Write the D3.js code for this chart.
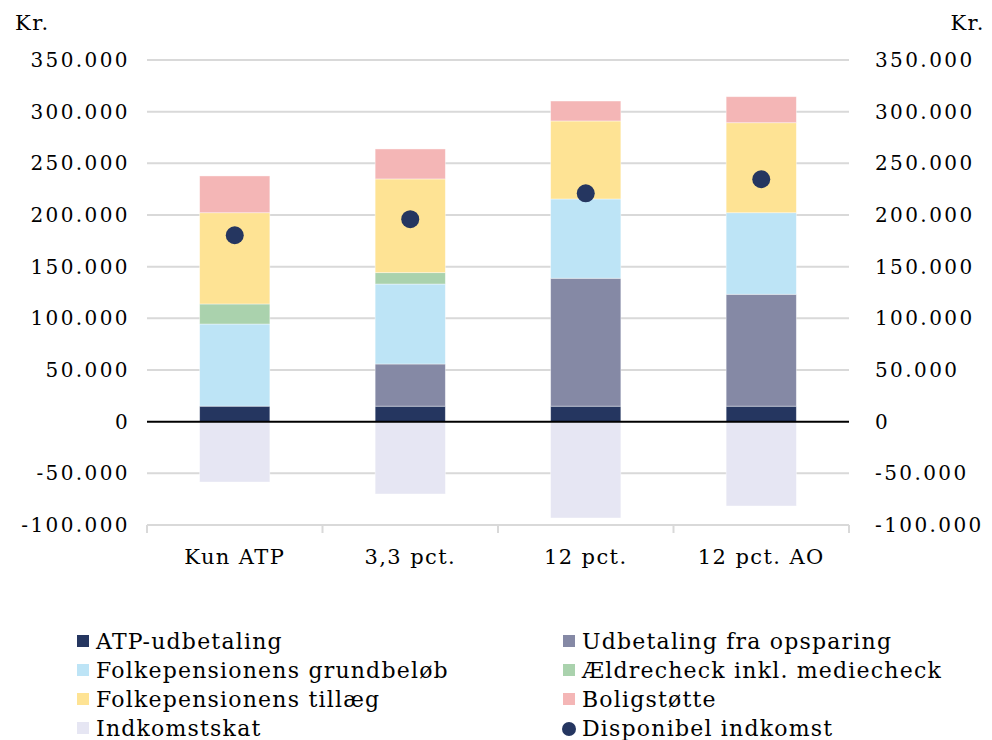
<!DOCTYPE html>
<html><head><meta charset="utf-8">
<script src="https://cdn.jsdelivr.net/npm/d3@7"></script>
<style>
body{margin:0;background:#fff;}
text{font-family:"DejaVu Serif",Georgia,serif;fill:#000;}
</style></head>
<body><svg id="c" width="992" height="740"></svg>
<script>
const categories = ["Kun ATP", "3,3 pct.", "12 pct.", "12 pct. AO"];
const atp         = [15000, 15000, 15000, 15000];
const opsparing   = [0, 40800, 123800, 108300];
const grundbelob  = [79500, 77400, 76700, 78900];
const aeldrecheck = [19400, 11000, 0, 0];
const tillaeg     = [88300, 90700, 75500, 87100];
const boligstotte = [35600, 29000, 19300, 25200];
const skat        = [-58400, -70000, -93200, -81600];
const disponibel  = [180400, 195900, 221000, 234600];
const yTicks = [-100000, -50000, 0, 50000, 100000, 150000, 200000, 250000, 300000, 350000];

const series = [
  {name:"ATP-udbetaling", values:atp, color:"#253660"},
  {name:"Udbetaling fra opsparing", values:opsparing, color:"#8589a5"},
  {name:"Folkepensionens grundbeløb", values:grundbelob, color:"#bde4f6"},
  {name:"Ældrecheck inkl. mediecheck", values:aeldrecheck, color:"#aad2ad"},
  {name:"Folkepensionens tillæg", values:tillaeg, color:"#fee394"},
  {name:"Boligstøtte", values:boligstotte, color:"#f4b6b6"},
  {name:"Indkomstskat", values:skat, color:"#e6e6f3"}
];
const dotColor = "#253660";

const svg = d3.select("#c");
const x = d3.scaleBand().domain(categories).range([147, 849]).paddingInner(0.6).paddingOuter(0.3);
const y = d3.scaleLinear().domain([-100000, 350000]).range([525, 60]);
const fmt = v => d3.format(",")(v).replace(/,/g, ".").replace("\u2212", "-");

// gridlines
svg.append("g").selectAll("line").data(yTicks.filter(t => t !== 0)).join("line")
  .attr("x1", 147).attr("x2", 849).attr("y1", d => y(d)).attr("y2", d => y(d))
  .attr("stroke", "#d9d9d9").attr("stroke-width", 2);

// bottom tick marks at band boundaries
const bounds = [147, ...categories.map(c => x(c) + x.bandwidth() + x.step()*x.paddingInner()/2)];
bounds[bounds.length-1] = 849;
svg.append("g").selectAll("line").data(bounds).join("line")
  .attr("x1", d => d).attr("x2", d => d).attr("y1", y(-100000)).attr("y2", y(-100000) + 8)
  .attr("stroke", "#d9d9d9").attr("stroke-width", 2);

// y axes
const yl = d3.axisLeft(y).tickValues(yTicks).tickFormat(fmt).tickSize(0).tickPadding(17);
const yr = d3.axisRight(y).tickValues(yTicks).tickFormat(fmt).tickSize(0).tickPadding(26);
const gl = svg.append("g").attr("transform", "translate(147,0)").call(yl);
const gr = svg.append("g").attr("transform", "translate(849,0)").call(yr);
[gl, gr].forEach(g => {
  g.select(".domain").remove();
  g.selectAll("text").attr("font-family", "DejaVu Serif").attr("font-size", 20)
    .attr("letter-spacing", 2.4).attr("fill", "#000");
});

svg.append("text").attr("x", 15).attr("y", 30).attr("font-size", 21).attr("letter-spacing", 1.5).text("Kr.");
svg.append("text").attr("x", 985).attr("y", 30).attr("font-size", 21).attr("letter-spacing", 1.5).attr("text-anchor", "end").text("Kr.");

// stacked bars
const posStack = new Array(categories.length).fill(0);
const negStack = new Array(categories.length).fill(0);
series.forEach(s => {
  const rects = s.values.map((v, i) => {
    let y0, y1;
    if (v >= 0) { y0 = posStack[i]; y1 = posStack[i] + v; posStack[i] = y1; }
    else { y0 = negStack[i] + v; y1 = negStack[i]; negStack[i] = y0; }
    return {cat: categories[i], y0, y1, v};
  }).filter(d => d.v !== 0);
  svg.append("g").selectAll("rect").data(rects).join("rect")
    .attr("x", d => x(d.cat)).attr("width", x.bandwidth())
    .attr("y", d => y(d.y1)).attr("height", d => y(d.y0) - y(d.y1))
    .attr("fill", s.color).attr("stroke", "rgba(255,255,255,0.5)").attr("stroke-width", 0.8);
});

// zero line
svg.append("line").attr("x1", 147).attr("x2", 849).attr("y1", y(0)).attr("y2", y(0))
  .attr("stroke", "#000").attr("stroke-width", 2);

// dots
svg.append("g").selectAll("circle").data(disponibel).join("circle")
  .attr("cx", (d, i) => x(categories[i]) + x.bandwidth()/2).attr("cy", d => y(d))
  .attr("r", 9).attr("fill", dotColor);

// category labels
svg.append("g").selectAll("text").data(categories).join("text")
  .attr("x", d => x(d) + x.bandwidth()/2).attr("y", 564)
  .attr("text-anchor", "middle").attr("font-size", 21).attr("letter-spacing", 1.4).text(d => d);

// legend
const legendItems = [
  {name:"ATP-udbetaling", color:series[0].color, type:"rect"},
  {name:"Udbetaling fra opsparing", color:series[1].color, type:"rect"},
  {name:"Folkepensionens grundbeløb", color:series[2].color, type:"rect"},
  {name:"Ældrecheck inkl. mediecheck", color:series[3].color, type:"rect"},
  {name:"Folkepensionens tillæg", color:series[4].color, type:"rect"},
  {name:"Boligstøtte", color:series[5].color, type:"rect"},
  {name:"Indkomstskat", color:series[6].color, type:"rect"},
  {name:"Disponibel indkomst", color:dotColor, type:"dot"}
];
const lg = svg.append("g").selectAll("g").data(legendItems).join("g")
  .attr("transform", (d, i) => `translate(${i % 2 ? 563 : 77},${641 + Math.floor(i/2)*29})`);
lg.filter(d => d.type === "rect").append("rect").attr("x", 0).attr("y", -6).attr("width", 12).attr("height", 12).attr("fill", d => d.color);
lg.filter(d => d.type === "dot").append("circle").attr("cx", 6).attr("cy", 1).attr("r", 7).attr("fill", d => d.color);
lg.append("text").attr("x", 19).attr("y", 0).attr("dy", "0.36em").attr("font-size", 22).attr("letter-spacing", 1.2).text(d => d.name);
</script></body></html>
